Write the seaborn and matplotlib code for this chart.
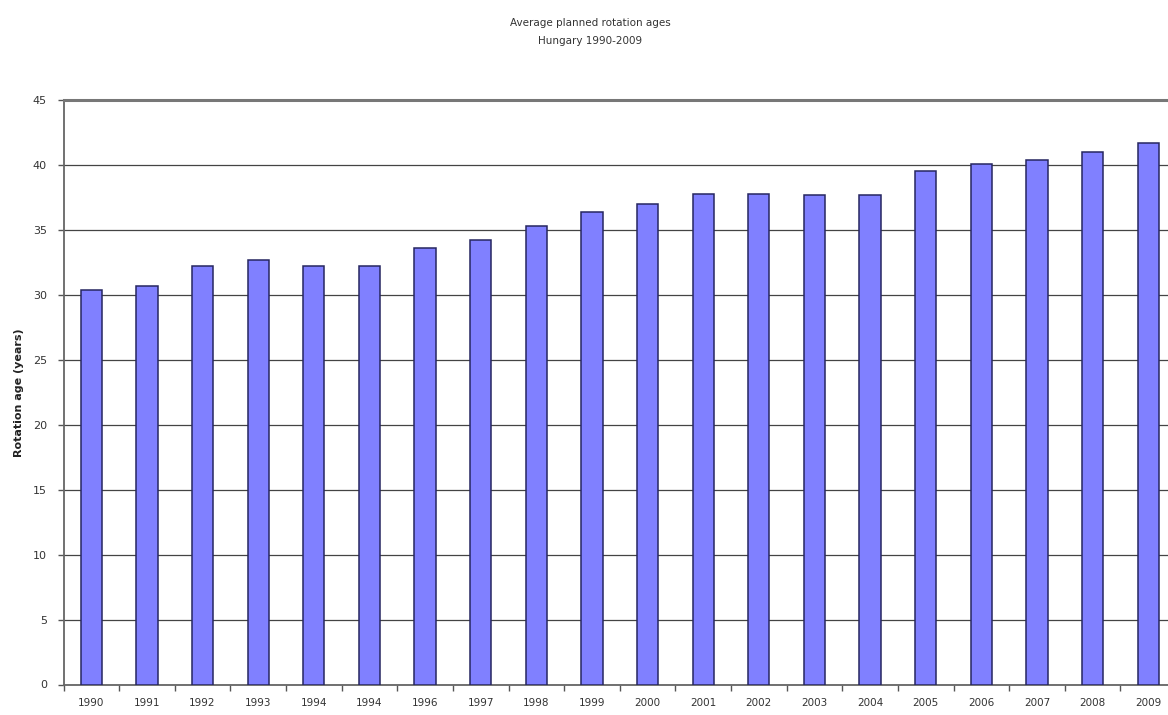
import matplotlib
matplotlib.use("Agg")
import matplotlib.pyplot as plt
import numpy as np
import pandas as pd
import seaborn as sns

# Year labels as printed under each bar (the sixth one reads 1994 in the source)
year_labels = ["1990", "1991", "1992", "1993", "1994", "1994", "1996", "1997",
               "1998", "1999", "2000", "2001", "2002", "2003", "2004", "2005",
               "2006", "2007", "2008", "2009"]
rotation_age = [30.4, 30.7, 32.2, 32.7, 32.2, 32.2, 33.6, 34.2, 35.3, 36.4,
                37.0, 37.8, 37.8, 37.7, 37.7, 39.5, 40.1, 40.4, 41.0, 41.7]
y_ticks = [0, 5, 10, 15, 20, 25, 30, 35, 40, 45]

df = pd.DataFrame({"slot": np.arange(len(year_labels)), "age": rotation_age})

sns.set_theme(style="white")
plt.rcParams["font.family"] = ["DejaVu Sans"]

W, H = 1168, 715
fig = plt.figure(figsize=(W / 100, H / 100), dpi=100)
left, right, top, bottom = 63.5, 1176, 100, 684.5
ax = fig.add_axes([left / W, 1 - bottom / H, (right - left) / W, (bottom - top) / H])

sns.barplot(data=df, x="slot", y="age", ax=ax, color="#8080FF", saturation=1,
            width=0.38, edgecolor="#262660", linewidth=1.1, native_scale=True,
            zorder=3)

ax.set_xlim(-0.5, len(year_labels) - 0.5)
ax.set_ylim(0, 45)
ax.set_yticks(y_ticks)
ax.set_yticklabels([str(t) for t in y_ticks], fontsize=8, color="#333333")
ax.yaxis.grid(True, color="#444444", linewidth=0.9, zorder=0)
ax.set_axisbelow(True)

ax.set_xticks(np.arange(len(year_labels)))
ax.set_xticklabels(year_labels, fontsize=7.5, color="#333333")
ax.set_xticks(np.arange(len(year_labels) + 1) - 0.5, minor=True)
ax.tick_params(axis="x", which="major", length=0, pad=10)
ax.tick_params(axis="x", which="minor", length=4, width=1, color="#555555",
               direction="out", bottom=True)
ax.tick_params(axis="y", which="major", length=4, width=1, color="#555555",
               direction="out", left=True, pad=8)

ax.set_xlabel("")
ax.set_ylabel("Rotation age (years)", fontsize=8, fontweight="bold",
              color="#222222", labelpad=6)

for side in ["left", "bottom"]:
    ax.spines[side].set_visible(True)
    ax.spines[side].set_color("#666666")
    ax.spines[side].set_linewidth(1.3)
ax.spines["top"].set_visible(True)
ax.spines["top"].set_color("#777777")
ax.spines["top"].set_linewidth(2.2)
ax.spines["right"].set_visible(False)

fig.text(590 / W, 1 - 23 / H, "Average planned rotation ages", ha="center",
         va="center", fontsize=7.5, color="#333333")
fig.text(590 / W, 1 - 41 / H, "Hungary 1990-2009", ha="center",
         va="center", fontsize=7.5, color="#333333")

fig.savefig("out.png", dpi=100, facecolor="white")
